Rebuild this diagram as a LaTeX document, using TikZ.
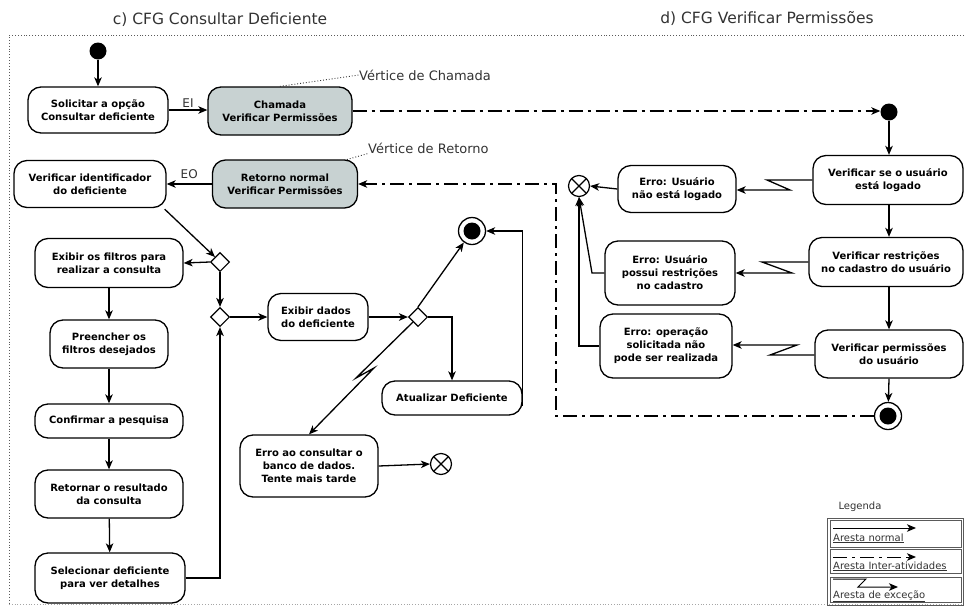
\documentclass[tikz,border=0pt]{standalone}
\usepackage{fontspec}
\setmainfont{DejaVu Sans}
\usetikzlibrary{arrows.meta,shapes.geometric,calc}
\definecolor{callgray}{RGB}{200,210,210}
\definecolor{framegray}{RGB}{90,90,90}
\definecolor{txtgray}{RGB}{50,50,50}
\begin{document}
\begin{tikzpicture}[x=1pt,y=-1pt,
  act/.style={draw,line width=1.3pt,rounded corners=13pt,align=center,
    font=\bfseries\fontsize{10}{13}\selectfont,inner sep=2pt,fill=white},
  call/.style={act,fill=callgray},
  dec/.style={draw,diamond,line width=1.1pt,fill=white,minimum width=19pt,
    minimum height=19pt,inner sep=0pt},
  initdot/.style={circle,fill=black,minimum size=17pt,inner sep=0pt},
  finalst/.style={circle,draw,line width=1.3pt,minimum size=27pt,inner sep=0pt,
    path picture={\fill (path picture bounding box.center) circle (8.5pt);}},
  xstate/.style={circle,draw,line width=1.2pt,minimum size=21pt,inner sep=0pt,
    path picture={\draw[line width=1.2pt]
      (path picture bounding box.north west) -- (path picture bounding box.south east)
      (path picture bounding box.north east) -- (path picture bounding box.south west);}},
  nrm/.style={-{Stealth[length=9pt,width=7.5pt,inset=2.5pt]},line width=1.3pt},
  intr/.style={nrm,dash pattern=on 14pt off 5pt on 3pt off 5pt},
  exc/.style={nrm,line join=miter},
  lbl/.style={font=\fontsize{12}{14}\selectfont,text=txtgray},
  note/.style={font=\fontsize{13}{15}\selectfont,text=txtgray,inner sep=0pt},
  ttl/.style={font=\fontsize{15.5}{18}\selectfont,text=txtgray},
  legtxt/.style={font=\fontsize{10}{11}\selectfont,text=txtgray,inner sep=1pt,anchor=base west}
]
\useasboundingbox (0,0) rectangle (964,611);

% frame and titles
\draw[framegray,line width=0.9pt,dotted] (964,35) -- (9,35) -- (9,604);
\draw[black!35,line width=0.8pt,dotted] (9,604) -- (964,604);
\node[ttl] (tc) at (220,20) {c) CFG Consultar Deficiente};
\node[ttl] (td) at (767,18) {d) CFG Verificar Permissões};

% ---------- c) Consultar Deficiente ----------
\node[initdot] (i1) at (98,51) {};
\node[act,minimum width=140pt,minimum height=46pt] (sol) at (98,110) {Solicitar a opção\\Consultar deficiente};
\node[call,minimum width=144pt,minimum height=48pt] (cham) at (280,111) {Chamada\\Verificar Permissões};
\node[act,minimum width=152pt,minimum height=47pt] (vid) at (90,184) {Verificar identificador\\do deficiente};
\node[call,minimum width=145pt,minimum height=48pt] (ret) at (285,184) {Retorno normal\\Verificar Permissões};
\node[dec] (d1) at (220,262) {};
\node[act,minimum width=148pt,minimum height=49pt] (exf) at (109,263) {Exibir os filtros para\\realizar a consulta};
\node[act,minimum width=118pt,minimum height=48pt] (pre) at (109,344) {Preencher os\\filtros desejados};
\node[act,minimum width=148pt,minimum height=34pt] (conf) at (109,421) {Confirmar a pesquisa};
\node[act,minimum width=148pt,minimum height=48pt] (rres) at (109,494) {Retornar o resultado\\da consulta};
\node[act,minimum width=150pt,minimum height=50pt] (sel) at (110,578) {Selecionar deficiente\\para ver detalhes};
\node[dec] (d2) at (220,317) {};
\node[act,align=left,minimum width=100pt,minimum height=47pt] (exd) at (318,317) {Exibir dados\\do deficiente};
\node[dec] (d3) at (418,317) {};
\node[finalst] (f1) at (472,231) {};
\node[act,minimum width=140pt,minimum height=34pt] (atu) at (452,398) {Atualizar Deficiente};
\node[act,minimum width=138pt,minimum height=62pt] (ebd) at (309,466) {Erro ao consultar o\\banco de dados.\\Tente mais tarde};
\node[xstate] (x1) at (441,464) {};

% call / return annotations
\node[note,anchor=west] (nch) at (359,75) {Vértice de Chamada};
\node[note,anchor=west] (nrt) at (368,148) {Vértice de Retorno};
\draw[txtgray,line width=0.9pt,dotted] (cham.north) -- (nch.west);
\draw[txtgray,line width=0.9pt,dotted] (ret.north east) ++(-14,1) -- (nrt.south west);

% connectors
\draw[nrm] (i1) -- (sol);
\draw[nrm] (sol.east) -- (sol.east -| cham.west) node[lbl,midway,above=-1pt] {EI};
\draw[nrm] (ret.west) -- (ret.west -| vid.east) node[lbl,midway,above=1pt] {EO};
\draw[nrm] (vid.south east) ++(-2,1) -- (d1.north west);
\draw[nrm] (d1.west) -- (exf.east);
\draw[nrm] (d1.south) -- (d2.north);
\draw[nrm] (exf) -- (pre);
\draw[nrm] (pre) -- (conf);
\draw[nrm] (conf) -- (rres);
\draw[nrm] (rres) -- (sel);
\draw[nrm] (sel.east) -| (d2.south);
\draw[nrm] (d2.east) -- (exd.west);
\draw[nrm] (exd.east) -- (d3.west);
\draw[nrm] (d3.north) -- (f1);
\draw[nrm] (d3.east) -| (atu.north);
\draw[nrm] ([yshift=-8pt]atu.east) |- (f1.east);
\draw[exc] (d3.south west) -- (356,378) -- (374,368) -- (ebd.north);
\draw[nrm] (ebd.east) -- (x1.west);

% ---------- d) Verificar Permissoes ----------
\node[initdot] (i2) at (889,112) {};
\node[act,minimum width=150pt,minimum height=49pt] (vlog) at (888,180) {Verificar se o usuário\\está logado};
\node[act,minimum width=118pt,minimum height=47pt] (elog) at (677,189) {Erro: Usuário\\não está logado};
\node[xstate] (x2) at (579,186) {};
\node[act,minimum width=154pt,minimum height=49pt] (vres) at (886,262) {Verificar restrições\\no cadastro do usuário};
\node[act,minimum width=130pt,minimum height=64pt] (eres) at (670,273) {Erro: Usuário\\possui restrições\\no cadastro};
\node[act,minimum width=148pt,minimum height=48pt] (vper) at (889,354) {Verificar permissões\\do usuário};
\node[act,minimum width=132pt,minimum height=64pt] (eop) at (666,346) {Erro: operação\\solicitada não\\pode ser realizada};
\node[finalst] (f2) at (888,416) {};

\draw[nrm] (i2) -- (i2 |- vlog.north);
\draw[nrm] (vlog.south -| i2) -- (i2 |- vres.north);
\draw[nrm] (vres.south -| i2) -- (i2 |- vper.north);
\draw[nrm] (vper.south -| i2) -- (f2);

\draw[exc] (vlog.west) -- (767,180) -- (790,190) -- (elog.east |- 0,190);
\draw[exc] (vres.west) -- (762,262) -- (792,273) -- (eres.east);
\draw[exc] (vper.west |- 0,355) -- (770,355) -- (797,345) -- (eop.east |- 0,345);

\draw[nrm] (elog.west) -- (x2.east);
\draw[nrm] (eres.west) -- (592,273) -- (x2.south);
\draw[nrm] (eop.west) -| (x2.south);

% call and return edges between the two graphs
\coordinate (bend) at (556,184);
\draw[intr] (cham.east) -- (cham.east -| i2.west);
\draw[intr] (f2.west) -| (bend) -- (ret.east);

% ---------- legend ----------
\node[font=\fontsize{10}{11}\selectfont,text=txtgray] (legt) at (860,507) {Legenda};
\node[draw=framegray,line width=0.8pt,minimum width=136pt,minimum height=87pt,inner sep=0pt] (legbox) at (895,561.5) {};
\node[draw=framegray,line width=0.8pt,minimum width=131pt,minimum height=27pt,inner sep=0pt] (lg1) at (895.5,533.5) {};
\node[draw=framegray,line width=0.8pt,minimum width=131pt,minimum height=24pt,inner sep=0pt] (lg2) at (895.5,561) {};
\node[draw=framegray,line width=0.8pt,minimum width=131pt,minimum height=25pt,inner sep=0pt] (lg3) at (895.5,589.5) {};
\node[legtxt] (lt1) at (832,541) {\underline{Aresta normal}};
\node[legtxt] (lt2) at (832,569) {\underline{Aresta Inter-atividades}};
\node[legtxt] (lt3) at (832,598) {\underline{Aresta de exceção}};
\coordinate (la1s) at (833,528); \coordinate (la1e) at (916,528);
\coordinate (la2s) at (833,557); \coordinate (la2e) at (916,557);
\coordinate (la3s) at (833,579); \coordinate (la3e) at (898,587);
\draw[nrm,line width=1pt] (la1s) -- (la1e);
\draw[intr,line width=1pt] (la2s) -- (la2e);
\draw[exc,line width=1pt] (la3s) -- (866,579) -- (858,587) -- (la3e);
\end{tikzpicture}
\end{document}
